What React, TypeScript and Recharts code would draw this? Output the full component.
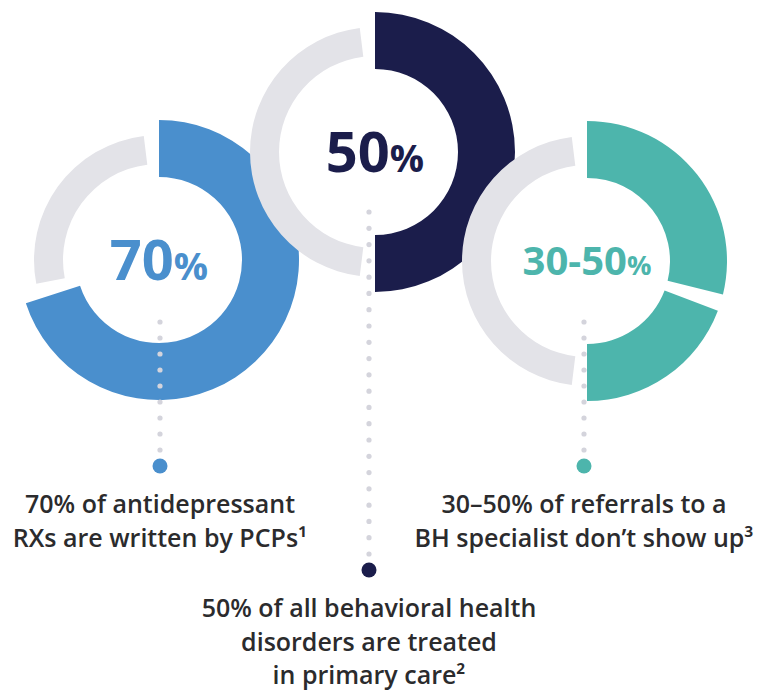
import React from 'react';
import { PieChart, Pie, Cell } from 'recharts';

// share of each stat, low and high end of the range (percent)
const statLabels = ['70', '50', '30-50'];
const lowShares = [70, 50, 30];
const highShares = [70, 50, 50];
const ringColors = ['#4a8fcd', '#1b1d4b', '#4db5ac'];
const captionLines = [
    ['70% of antidepressant', 'RXs are written by PCPs¹'],
    ['50% of all behavioral health', 'disorders are treated', 'in primary care²'],
    ['30–50% of referrals to a', 'BH specialist don’t show up³'],
];

const GRAY = '#e3e3e8';
const DOT_GRAY = '#d4d4dc';
const TEXT = '#2b2b2d';
const GAP = 7;
const FONT = '"Open Sans", sans-serif';

const layout = [
    { cx: 159, cy: 260, numSize: 56, dotX: 160, dotTop: 322, dotEnd: 466, captionY: 513 },
    { cx: 375, cy: 152, numSize: 56, dotX: 369, dotTop: 212, dotEnd: 570, captionY: 617 },
    { cx: 587, cy: 261, numSize: 40, dotX: 584, dotTop: 322, dotEnd: 466, captionY: 513 },
];

const segmentsFor = (i: number) => {
    const segs = [{ name: 'low', value: lowShares[i] }];
    if (highShares[i] > lowShares[i]) {
        segs.push({ name: 'high', value: highShares[i] - lowShares[i] });
    }
    return segs;
};

const App: React.FC = () => {
    const pies = layout.flatMap((pos, i) => {
        const sweep = 3.6 * highShares[i];
        const segs = segmentsFor(i);
        return [
            <Pie
                key={`rest-${i}`}
                data={[{ name: 'rest', value: 100 - highShares[i] }]}
                dataKey="value"
                cx={pos.cx}
                cy={pos.cy}
                innerRadius={96}
                outerRadius={125}
                startAngle={90 - sweep - GAP}
                endAngle={-270 + GAP}
                stroke="none"
                isAnimationActive={false}
            >
                <Cell fill={GRAY} />
            </Pie>,
            <Pie
                key={`share-${i}`}
                data={segs}
                dataKey="value"
                cx={pos.cx}
                cy={pos.cy}
                innerRadius={83}
                outerRadius={140}
                startAngle={90}
                endAngle={90 - sweep}
                paddingAngle={segs.length > 1 ? GAP : 0}
                stroke="none"
                isAnimationActive={false}
            >
                {segs.map((s, k) => (
                    <Cell key={`cell-${i}-${k}`} fill={ringColors[i]} />
                ))}
            </Pie>,
        ];
    });

    return (
        <div style={{ position: 'absolute', left: 0, top: 0, width: 758, height: 690, background: '#fff' }}>
            <PieChart width={758} height={690} margin={{ top: 0, right: 0, bottom: 0, left: 0 }}>
                {pies}
            </PieChart>
            <svg
                width={758}
                height={690}
                style={{ position: 'absolute', left: 0, top: 0, pointerEvents: 'none' }}
            >
                {layout.map((pos, i) => {
                    const n = Math.round((pos.dotEnd - 16 - pos.dotTop) / 16.3);
                    const step = (pos.dotEnd - 16 - pos.dotTop) / n;
                    const dots = [];
                    for (let k = 0; k <= n; k++) {
                        dots.push(
                            <circle key={`d-${i}-${k}`} cx={pos.dotX} cy={pos.dotTop + k * step} r={2.6} fill={DOT_GRAY} />
                        );
                    }
                    return (
                        <g key={`g-${i}`}>
                            {dots}
                            <circle cx={pos.dotX} cy={pos.dotEnd} r={7.5} fill={ringColors[i]} />
                            <text
                                x={pos.cx}
                                y={pos.cy + pos.numSize * 0.36}
                                textAnchor="middle"
                                fill={ringColors[i]}
                                fontFamily={FONT}
                                fontWeight={700}
                            >
                                <tspan fontSize={pos.numSize}>{statLabels[i]}</tspan>
                                <tspan fontSize={pos.numSize * 0.68}>%</tspan>
                            </text>
                            <text
                                textAnchor="middle"
                                fill={TEXT}
                                fontFamily={FONT}
                                fontWeight={600}
                                fontSize={25}
                            >
                                {captionLines[i].map((line, k) => (
                                    <tspan key={k} x={pos.dotX} y={pos.captionY + k * 33.7}>
                                        {line}
                                    </tspan>
                                ))}
                            </text>
                        </g>
                    );
                })}
            </svg>
        </div>
    );
};

export default App;
